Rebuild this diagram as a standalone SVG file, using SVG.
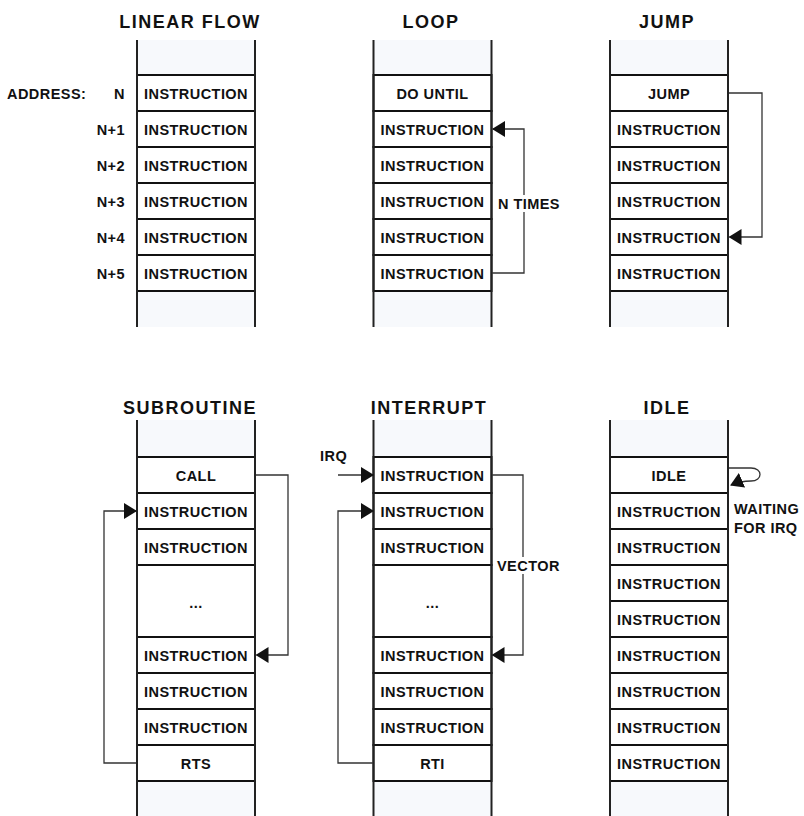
<svg xmlns="http://www.w3.org/2000/svg" width="804" height="816" viewBox="0 0 804 816">
<style>
.bg{fill:#f7f9fc;stroke:none}
.row{fill:#ffffff;stroke:#111;stroke-width:2}
.edge{stroke:#222;stroke-width:2;fill:none}
.t{font-family:"Liberation Sans",Arial,sans-serif;font-weight:bold;font-size:14.5px;fill:#111;text-anchor:middle;letter-spacing:0.45px}
.lbl{font-family:"Liberation Sans",Arial,sans-serif;font-weight:bold;font-size:14.5px;fill:#111;letter-spacing:0.45px}
.title{font-family:"Liberation Sans",Arial,sans-serif;font-weight:bold;font-size:18px;fill:#111;text-anchor:middle;letter-spacing:1.5px}
.con{stroke:#333;stroke-width:1.3;fill:none}
</style>
<defs>
<marker id="ah" markerWidth="13" markerHeight="16" refX="12" refY="8" orient="auto" markerUnits="userSpaceOnUse">
<path d="M0,0 L13,8 L0,16 Z" fill="#111"/>
</marker>
</defs>

<g id="linear">
<text class="title" x="190" y="28">LINEAR FLOW</text>
<rect class="bg" x="137" y="40" width="118" height="287"/>
<rect class="row" x="137" y="75" width="118" height="36"/>
<rect class="row" x="137" y="111" width="118" height="36"/>
<rect class="row" x="137" y="147" width="118" height="36"/>
<rect class="row" x="137" y="183" width="118" height="36"/>
<rect class="row" x="137" y="219" width="118" height="36"/>
<rect class="row" x="137" y="255" width="118" height="36"/>
<path class="edge" d="M137,40 V327 M255,40 V327"/>
<text class="t" x="196" y="98.5">INSTRUCTION</text>
<text class="t" x="196" y="134.5">INSTRUCTION</text>
<text class="t" x="196" y="170.5">INSTRUCTION</text>
<text class="t" x="196" y="206.5">INSTRUCTION</text>
<text class="t" x="196" y="242.5">INSTRUCTION</text>
<text class="t" x="196" y="278.5">INSTRUCTION</text>
<text class="lbl" x="7" y="98.5">ADDRESS:</text>
<text class="lbl" x="125" y="98.5" text-anchor="end">N</text>
<text class="lbl" x="125" y="134.5" text-anchor="end">N+1</text>
<text class="lbl" x="125" y="170.5" text-anchor="end">N+2</text>
<text class="lbl" x="125" y="206.5" text-anchor="end">N+3</text>
<text class="lbl" x="125" y="242.5" text-anchor="end">N+4</text>
<text class="lbl" x="125" y="278.5" text-anchor="end">N+5</text>
</g>

<g id="loop">
<text class="title" x="431" y="28">LOOP</text>
<rect class="bg" x="373.5" y="40" width="118" height="287"/>
<rect class="row" x="373.5" y="75" width="118" height="36"/>
<rect class="row" x="373.5" y="111" width="118" height="36"/>
<rect class="row" x="373.5" y="147" width="118" height="36"/>
<rect class="row" x="373.5" y="183" width="118" height="36"/>
<rect class="row" x="373.5" y="219" width="118" height="36"/>
<rect class="row" x="373.5" y="255" width="118" height="36"/>
<path class="edge" d="M373.5,40 V327 M491.5,40 V327"/>
<text class="t" x="432.5" y="98.5">DO UNTIL</text>
<text class="t" x="432.5" y="134.5">INSTRUCTION</text>
<text class="t" x="432.5" y="170.5">INSTRUCTION</text>
<text class="t" x="432.5" y="206.5">INSTRUCTION</text>
<text class="t" x="432.5" y="242.5">INSTRUCTION</text>
<text class="t" x="432.5" y="278.5">INSTRUCTION</text>
</g>

<g id="jump">
<text class="title" x="667" y="28">JUMP</text>
<rect class="bg" x="610" y="40" width="118" height="287"/>
<rect class="row" x="610" y="75" width="118" height="36"/>
<rect class="row" x="610" y="111" width="118" height="36"/>
<rect class="row" x="610" y="147" width="118" height="36"/>
<rect class="row" x="610" y="183" width="118" height="36"/>
<rect class="row" x="610" y="219" width="118" height="36"/>
<rect class="row" x="610" y="255" width="118" height="36"/>
<path class="edge" d="M610,40 V327 M728,40 V327"/>
<text class="t" x="669" y="98.5">JUMP</text>
<text class="t" x="669" y="134.5">INSTRUCTION</text>
<text class="t" x="669" y="170.5">INSTRUCTION</text>
<text class="t" x="669" y="206.5">INSTRUCTION</text>
<text class="t" x="669" y="242.5">INSTRUCTION</text>
<text class="t" x="669" y="278.5">INSTRUCTION</text>
</g>

<g id="subroutine">
<text class="title" x="190" y="414">SUBROUTINE</text>
<rect class="bg" x="137" y="420" width="118" height="396"/>
<rect class="row" x="137" y="457" width="118" height="36"/>
<rect class="row" x="137" y="493" width="118" height="36"/>
<rect class="row" x="137" y="529" width="118" height="36"/>
<rect class="row" x="137" y="565" width="118" height="72"/>
<rect class="row" x="137" y="637" width="118" height="36"/>
<rect class="row" x="137" y="673" width="118" height="36"/>
<rect class="row" x="137" y="709" width="118" height="36"/>
<rect class="row" x="137" y="745" width="118" height="36"/>
<path class="edge" d="M137,420 V816 M255,420 V816"/>
<text class="t" x="196" y="480.5">CALL</text>
<text class="t" x="196" y="516.5">INSTRUCTION</text>
<text class="t" x="196" y="552.5">INSTRUCTION</text>
<text class="t" x="196" y="608">...</text>
<text class="t" x="196" y="660.5">INSTRUCTION</text>
<text class="t" x="196" y="696.5">INSTRUCTION</text>
<text class="t" x="196" y="732.5">INSTRUCTION</text>
<text class="t" x="196" y="768.5">RTS</text>
</g>

<g id="interrupt">
<text class="title" x="429" y="414">INTERRUPT</text>
<rect class="bg" x="373.5" y="420" width="118" height="396"/>
<rect class="row" x="373.5" y="457" width="118" height="36"/>
<rect class="row" x="373.5" y="493" width="118" height="36"/>
<rect class="row" x="373.5" y="529" width="118" height="36"/>
<rect class="row" x="373.5" y="565" width="118" height="72"/>
<rect class="row" x="373.5" y="637" width="118" height="36"/>
<rect class="row" x="373.5" y="673" width="118" height="36"/>
<rect class="row" x="373.5" y="709" width="118" height="36"/>
<rect class="row" x="373.5" y="745" width="118" height="36"/>
<path class="edge" d="M373.5,420 V816 M491.5,420 V816"/>
<text class="t" x="432.5" y="480.5">INSTRUCTION</text>
<text class="t" x="432.5" y="516.5">INSTRUCTION</text>
<text class="t" x="432.5" y="552.5">INSTRUCTION</text>
<text class="t" x="432.5" y="608">...</text>
<text class="t" x="432.5" y="660.5">INSTRUCTION</text>
<text class="t" x="432.5" y="696.5">INSTRUCTION</text>
<text class="t" x="432.5" y="732.5">INSTRUCTION</text>
<text class="t" x="432.5" y="768.5">RTI</text>
</g>

<g id="idle">
<text class="title" x="667" y="414">IDLE</text>
<rect class="bg" x="610" y="420" width="118" height="396"/>
<rect class="row" x="610" y="457" width="118" height="36"/>
<rect class="row" x="610" y="493" width="118" height="36"/>
<rect class="row" x="610" y="529" width="118" height="36"/>
<rect class="row" x="610" y="565" width="118" height="36"/>
<rect class="row" x="610" y="601" width="118" height="36"/>
<rect class="row" x="610" y="637" width="118" height="36"/>
<rect class="row" x="610" y="673" width="118" height="36"/>
<rect class="row" x="610" y="709" width="118" height="36"/>
<rect class="row" x="610" y="745" width="118" height="36"/>
<path class="edge" d="M610,420 V816 M728,420 V816"/>
<text class="t" x="669" y="480.5">IDLE</text>
<text class="t" x="669" y="516.5">INSTRUCTION</text>
<text class="t" x="669" y="552.5">INSTRUCTION</text>
<text class="t" x="669" y="588.5">INSTRUCTION</text>
<text class="t" x="669" y="624.5">INSTRUCTION</text>
<text class="t" x="669" y="660.5">INSTRUCTION</text>
<text class="t" x="669" y="696.5">INSTRUCTION</text>
<text class="t" x="669" y="732.5">INSTRUCTION</text>
<text class="t" x="669" y="768.5">INSTRUCTION</text>
</g>

<g id="connectors">
<path class="con" d="M492,273 H524 V129 H493" marker-end="url(#ah)"/>
<path class="con" d="M729,93 H762 V237 H729.5" marker-end="url(#ah)"/>
<path class="con" d="M256,475 H288 V655 H256.5" marker-end="url(#ah)"/>
<path class="con" d="M136,763 H104 V511 H136" marker-end="url(#ah)"/>
<path class="con" d="M338,475 H373" marker-end="url(#ah)"/>
<path class="con" d="M373,763 H338 V511 H373" marker-end="url(#ah)"/>
<path class="con" d="M492,475 H523 V655 H492.5" marker-end="url(#ah)"/>
<path class="con" d="M729,468 H751 C763,468 763,481 751,481 C744,481 738,482 731,485" marker-end="url(#ah)"/>
</g>

<g id="labels">
<rect x="497" y="195" width="67" height="17" fill="#ffffff"/>
<text class="lbl" x="498" y="209">N TIMES</text>
<rect x="496" y="557" width="68" height="17" fill="#ffffff"/>
<text class="lbl" x="497" y="571">VECTOR</text>
<text class="lbl" x="320" y="461">IRQ</text>
<text class="lbl" x="734" y="514">WAITING</text>
<text class="lbl" x="734" y="533">FOR IRQ</text>
</g>
</svg>
